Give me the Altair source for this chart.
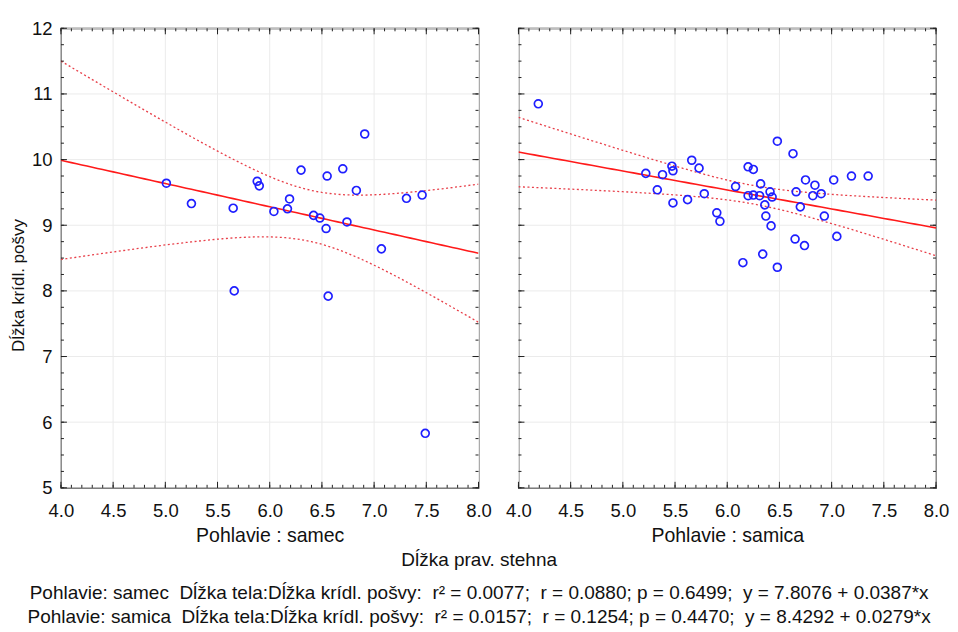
import altair as alt
import numpy as np
import pandas as pd

# ---- data ----
male_x = [5.01, 5.25, 5.65, 5.88, 5.90, 6.04, 6.17, 6.19, 6.30, 6.42, 6.48, 6.54,
          6.55, 6.70, 6.74, 6.83, 6.91, 7.07, 7.31, 7.46, 5.66, 6.56, 7.49]
male_y = [9.64, 9.33, 9.26, 9.67, 9.60, 9.21, 9.25, 9.40, 9.84, 9.15, 9.11, 8.95,
          9.75, 9.86, 9.05, 9.53, 10.39, 8.64, 9.41, 9.46, 8.00, 7.92, 5.83]

female_x = [4.19, 5.22, 5.33, 5.38, 5.47, 5.48, 5.48, 5.62, 5.66, 5.73, 5.78, 5.90,
            5.93, 6.08, 6.15, 6.20, 6.20, 6.25, 6.25, 6.31, 6.32, 6.34, 6.36, 6.37,
            6.41, 6.43, 6.42, 6.48, 6.48, 6.63, 6.65, 6.66, 6.70, 6.74, 6.75, 6.82,
            6.84, 6.90, 6.93, 7.02, 7.05, 7.19, 7.35]
female_y = [10.85, 9.79, 9.54, 9.77, 9.90, 9.83, 9.34, 9.39, 9.99, 9.87, 9.48, 9.19,
            9.06, 9.59, 8.43, 9.89, 9.45, 9.85, 9.46, 9.45, 9.63, 8.56, 9.31, 9.14,
            9.51, 9.43, 8.99, 10.28, 8.36, 10.09, 8.79, 9.51, 9.28, 8.69, 9.69, 9.45,
            9.61, 9.48, 9.14, 9.69, 8.83, 9.75, 9.75]

x_ticks = [4.0, 4.5, 5.0, 5.5, 6.0, 6.5, 7.0, 7.5, 8.0]
y_ticks = [5, 6, 7, 8, 9, 10, 11, 12]
x_minor = [round(4.0 + 0.1 * i, 2) for i in range(41)]
y_minor = [5 + 0.25 * i for i in range(29)]

panel_titles = ["Pohlavie : samec", "Pohlavie : samica"]
y_title = "Dĺžka krídl. pošvy"
x_title = "Dĺžka prav. stehna"
NB2 = "\u00a0\u00a0"
stat_lines = [
    "Pohlavie: samec" + NB2 + "Dĺžka tela:Dĺžka krídl. pošvy:" + NB2 + "r² = 0.0077;" + NB2
    + "r = 0.0880; p = 0.6499;" + NB2 + "y = 7.8076 + 0.0387*x",
    "Pohlavie: samica" + NB2 + "Dĺžka tela:Dĺžka krídl. pošvy:" + NB2 + "r² = 0.0157;" + NB2
    + "r = 0.1254; p = 0.4470;" + NB2 + "y = 8.4292 + 0.0279*x",
]

T95 = {23: 2.080, 43: 2.020}  # t(0.975, n-2)

FONT = "Liberation Sans"
W, H = 418, 460
GRID = "#ebebeb"


def fit_frames(xs, ys):
    x = np.array(xs, dtype=float)
    y = np.array(ys, dtype=float)
    n = len(x)
    b, a = np.polyfit(x, y, 1)
    res = y - (a + b * x)
    s = np.sqrt((res ** 2).sum() / (n - 2))
    sxx = ((x - x.mean()) ** 2).sum()
    grid = np.linspace(4, 8, 81)
    fit = a + b * grid
    half = T95[n] * s * np.sqrt(1 / n + (grid - x.mean()) ** 2 / sxx)
    return (pd.DataFrame({"x": grid, "y": fit}),
            pd.DataFrame({"x": grid, "y": fit + half}),
            pd.DataFrame({"x": grid, "y": fit - half}))


xscale = alt.Scale(domain=[4, 8], nice=False, zero=False)
yscale = alt.Scale(domain=[5, 12], nice=False, zero=False)


def panel(xs, ys, xtitle, left):
    pts = pd.DataFrame({"x": xs, "y": ys})
    fit, hi, lo = fit_frames(xs, ys)
    xaxis = alt.Axis(values=x_ticks, format=".1f", title=xtitle, ticks=False, domain=False,
                     grid=False, labelFlush=False, labelOverlap=False,
                     labelFontSize=18.5, titleFontSize=19.5, labelPadding=14, titlePadding=6,
                     titleFontWeight="normal", labelColor="#111", titleColor="#111",
                     labelFont=FONT, titleFont=FONT)
    if left:
        yaxis = alt.Axis(values=y_ticks, format="d", title=y_title, ticks=False, domain=False,
                         grid=False, labelOverlap=False, labelFlush=False,
                         labelFontSize=18.5, titleFontSize=17, labelPadding=9, titlePadding=4,
                         titleFontWeight="normal", labelColor="#111", titleColor="#111",
                         labelFont=FONT, titleFont=FONT, titleY=257)
    else:
        yaxis = None
    xenc = alt.X("x:Q", scale=xscale, axis=xaxis)
    yenc = alt.Y("y:Q", scale=yscale, axis=yaxis)

    xmaj = pd.DataFrame({"x": x_ticks})
    xmin = pd.DataFrame({"x": x_minor})
    ymaj = pd.DataFrame({"y": y_ticks})
    ymin = pd.DataFrame({"y": y_minor})

    layers = []
    # faint grid
    layers.append(alt.Chart(xmaj).mark_rule(color=GRID, strokeWidth=1).encode(
        x=xenc, y=alt.value(0), y2=alt.value(H)))
    layers.append(alt.Chart(ymaj).mark_rule(color=GRID, strokeWidth=1).encode(
        y=yenc, x=alt.value(0), x2=alt.value(W)))
    # 95% confidence bands and regression line
    for df in (hi, lo):
        layers.append(alt.Chart(df).mark_line(color="#e8404a", strokeWidth=1.3,
                                              strokeDash=[2, 2.5], clip=True)
                      .encode(x=xenc, y=yenc))
    layers.append(alt.Chart(fit).mark_line(color="#ff1a1a", strokeWidth=1.6, clip=True)
                  .encode(x=xenc, y=yenc))
    layers.append(alt.Chart(pts).mark_point(shape="circle", filled=False, color="#1f1fff",
                                            size=62, strokeWidth=1.7, opacity=1)
                  .encode(x=xenc, y=yenc))

    # inward ticks on all four sides
    tick = dict(color="#222", strokeWidth=1)
    for df, ln in ((xmaj, 6), (xmin, 3)):
        layers.append(alt.Chart(df).mark_rule(**tick).encode(
            x=xenc, y=alt.value(H), y2=alt.value(H - ln)))
        layers.append(alt.Chart(df).mark_rule(**tick).encode(
            x=xenc, y=alt.value(0), y2=alt.value(ln)))
    for df, ln in ((ymaj, 6), (ymin, 3)):
        layers.append(alt.Chart(df).mark_rule(**tick).encode(
            y=yenc, x=alt.value(0), x2=alt.value(ln)))
        layers.append(alt.Chart(df).mark_rule(**tick).encode(
            y=yenc, x=alt.value(W), x2=alt.value(W - ln)))

    return alt.layer(*layers).properties(width=W, height=H)


left = panel(male_x, male_y, panel_titles[0], True)
right = panel(female_x, female_y, panel_titles[1], False)

chart = alt.hconcat(left, right, spacing=12).properties(
    padding={"left": 0, "top": 10, "right": 0, "bottom": 0},
    title=alt.TitleParams(text=x_title, subtitle=stat_lines, orient="bottom", anchor="middle",
                          font=FONT, fontSize=19, fontWeight="normal", color="#111",
                          subtitleFont=FONT, subtitleFontSize=19, subtitleColor="#111",
                          offset=6, subtitlePadding=14, subtitleLineHeight=23.5),
).configure(background="white").configure_view(stroke="#111", strokeWidth=1.3)

chart.save("out.html", embed_options={"renderer": "svg", "actions": False})
